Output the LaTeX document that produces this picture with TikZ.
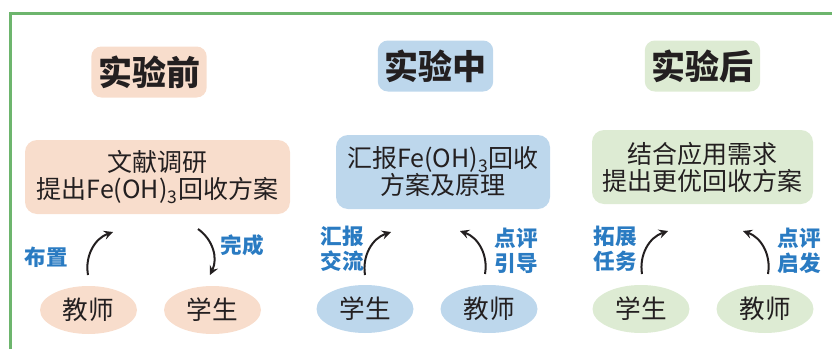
\documentclass[tikz,border=0pt]{standalone}
\usepackage{fontspec}
\setmainfont{Noto Sans CJK SC}
\usepackage{tikz}
\usetikzlibrary{arrows,shapes.geometric,positioning}
\definecolor{peach}{HTML}{F8DDCC}
\definecolor{skyblue}{HTML}{BDD7EC}
\definecolor{palegreen}{HTML}{DDEBD3}
\definecolor{framegreen}{HTML}{6DB56D}
\definecolor{labelblue}{HTML}{2A7BC2}
\definecolor{ink}{HTML}{231F20}
\tikzset{node distance=62pt, auto}
\tikzset{
	stage/.style={rounded corners=5pt, minimum width=57.5pt, minimum height=25.5pt, text=ink,
		font=\bfseries\fontsize{17}{19}\selectfont},
	task/.style={rounded corners=6pt, minimum height=37pt, align=center, text=ink,
		font=\fontsize{12.5}{13.5}\selectfont},
	role/.style={ellipse, inner sep=0pt, minimum width=48.5pt, minimum height=24pt, text=ink,
		font=\fontsize{12.8}{14}\selectfont},
	hint/.style={align=center, text=labelblue, font=\bfseries\fontsize{10.8}{12.5}\selectfont},
	flow/.style={-stealth, line width=1pt, ink}
}
\begin{document}
\begin{tikzpicture}[x=0.5pt, y=-0.5pt]
	\useasboundingbox (0,0) rectangle (832,349);
	% frame
	\draw[framegreen, line width=1.5pt] (10,349) -- (10,13) -- (832,13);

	% before the experiment
	\node (S1) 	[stage, fill=peach] 	at (149,72) 		{实验前};
	\node (T1) 	[task, fill=peach, minimum width=132.5pt] 	at (157.5,177) 	{文献调研\\提出Fe(OH)\textsubscript{3}回收方案};
	\node (R1a) 	[role, fill=peach] 	at (88.5,310) 		{教师};
	\node (R1b) 	[role, fill=peach, right of=R1a] 			{学生};
	\coordinate (a1) at (88,275);	\coordinate (b1) at (113,232);
	\coordinate (c1) at (198,229);	\coordinate (d1) at (210,275);
	\draw[flow] 	(a1) 	to[bend left=40] 	(b1);
	\draw[flow] 	(c1) 	to[bend left=40] 	(d1);
	\node (H1a) 	[hint] 	at (46,257) 		{布置};
	\node (H1b) 	[hint] 	at (242,245) 		{完成};

	% during the experiment
	\node (S2) 	[stage, fill=skyblue] 	at (435.5,66) 	{实验中};
	\node (T2) 	[task, fill=skyblue, minimum width=107pt] 	at (443,172) 	{汇报Fe(OH)\textsubscript{3}回收\\方案及原理};
	\node (R2a) 	[role, fill=skyblue] 	at (365,309) 		{学生};
	\node (R2b) 	[role, fill=skyblue, right of=R2a] 		{教师};
	\coordinate (a2) at (365,275);	\coordinate (b2) at (391,232);
	\coordinate (c2) at (485,274);	\coordinate (d2) at (460,231);
	\draw[flow] 	(a2) 	to[bend left=40] 	(b2);
	\draw[flow] 	(c2) 	to[bend right=40] 	(d2);
	\node (H2a) 	[hint] 	at (342.5,249) 	{汇报\\交流};
	\node (H2b) 	[hint] 	at (516,251) 		{点评\\引导};

	% after the experiment
	\node (S3) 	[stage, fill=palegreen] 	at (702.5,66) 	{实验后};
	\node (T3) 	[task, fill=palegreen, minimum width=110.5pt] 	at (702.5,167) 	{结合应用需求\\提出更优回收方案};
	\node (R3a) 	[role, fill=palegreen] 	at (641,309) 		{学生};
	\node (R3b) 	[role, fill=palegreen, right of=R3a] 		{教师};
	\coordinate (a3) at (642,274);	\coordinate (b3) at (668,231);
	\coordinate (c3) at (768,274);	\coordinate (d3) at (743,231);
	\draw[flow] 	(a3) 	to[bend left=40] 	(b3);
	\draw[flow] 	(c3) 	to[bend right=40] 	(d3);
	\node (H3a) 	[hint] 	at (615,249) 		{拓展\\任务};
	\node (H3b) 	[hint] 	at (799,251) 		{点评\\启发};
\end{tikzpicture}
\end{document}
